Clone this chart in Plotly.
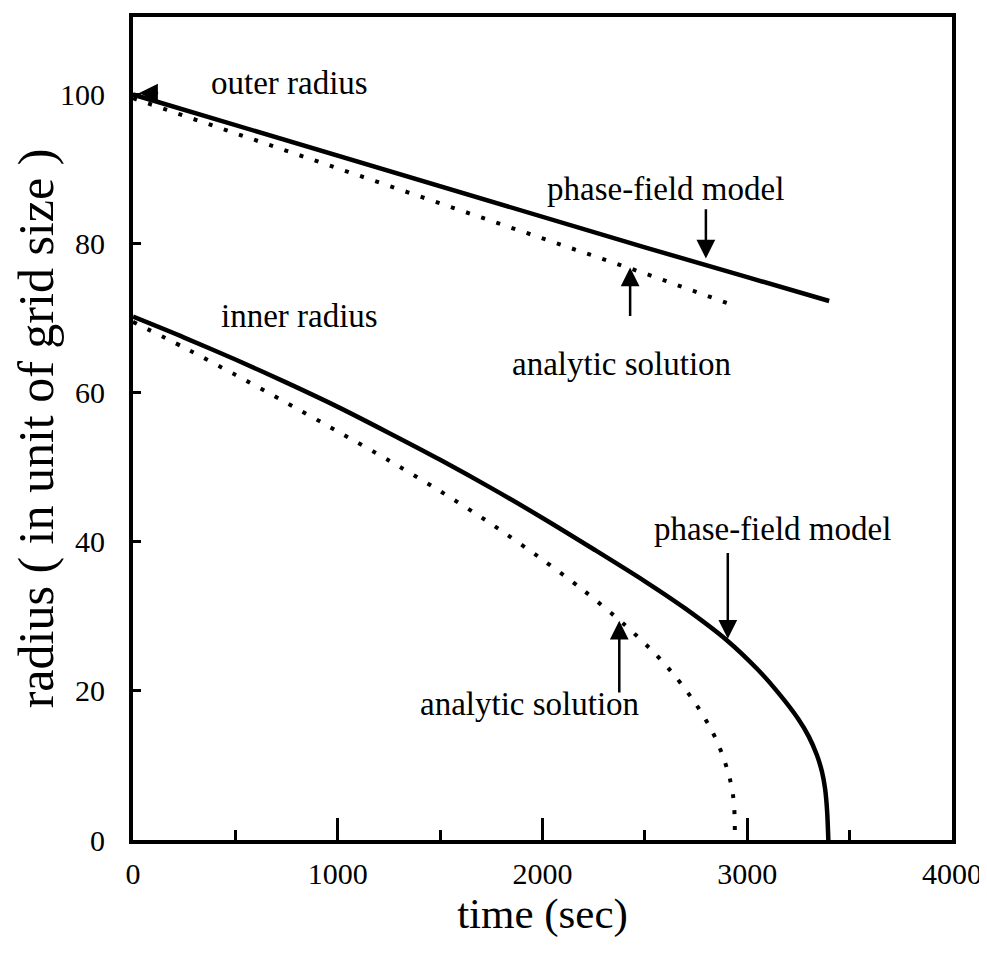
import plotly.graph_objects as go

# ---- data ----
outer_pf_t = [0, 500, 1000, 1500, 2000, 2500, 3000, 3400]
outer_pf_r = [100.0, 95.9, 91.8, 87.6, 83.5, 79.5, 75.5, 72.3]

outer_an_t = [0, 500, 1000, 1500, 2000, 2500, 2945]
outer_an_r = [99.5, 94.8, 90.1, 85.3, 80.7, 76.0, 71.6]

inner_pf_t = [0, 250, 500, 750, 1000, 1250, 1500, 1750, 2000, 2250, 2500, 2700, 2900,
              3050, 3150, 3250, 3300, 3340, 3365, 3380, 3390, 3396]
inner_pf_r = [70.2, 67.4, 64.45, 61.35, 58.1, 54.6, 51.0, 47.2, 43.2, 39.0, 34.7, 31.0, 26.8,
              22.9, 19.8, 16.2, 13.9, 11.4, 9.15, 6.9, 3.9, 0.0]

inner_an_t = [0, 250, 500, 750, 1000, 1250, 1500, 1750, 2000, 2200, 2400, 2550,
              2650, 2750, 2830, 2880, 2915, 2930, 2937, 2940]
inner_an_r = [69.5, 66.05, 62.4, 58.65, 54.8, 50.9, 46.8, 42.4, 37.6, 33.5, 28.9, 25.0,
              21.9, 18.2, 14.5, 11.35, 8.2, 6.1, 4.0, 0.0]

x_ticks = [0, 1000, 2000, 3000, 4000]
y_ticks = [0, 20, 40, 60, 80, 100]

FONT = "Liberation Serif"

fig = go.Figure()
solid = dict(color="black", width=4.5)
dotted = dict(color="black", width=4, dash="4px,12px")

fig.add_trace(go.Scatter(x=outer_pf_t, y=outer_pf_r, mode="lines", line=solid))
fig.add_trace(go.Scatter(x=outer_an_t, y=outer_an_r, mode="lines", line=dotted))
fig.add_trace(go.Scatter(x=inner_pf_t, y=inner_pf_r, mode="lines",
                         line=dict(solid, shape="spline", smoothing=0.8)))
fig.add_trace(go.Scatter(x=inner_an_t, y=inner_an_r, mode="lines",
                         line=dict(dotted, shape="spline", smoothing=0.8)))

texts = [
    ("outer radius", 764, 101.5),
    ("inner radius", 813, 70.3),
    ("phase-field model", 2603, 87.3),
    ("analytic solution", 2384, 63.9),
    ("phase-field model", 3124, 41.7),
    ("analytic solution", 1937, 18.3),
]
for txt, x, y in texts:
    fig.add_annotation(x=x, y=y, text=txt, showarrow=False,
                       font=dict(family=FONT, size=33, color="black"))

# arrows: (head_x, head_y, tail_x, tail_y)
arrows = [
    (2798, 78.0, 2798, 84.8),
    (2428, 76.8, 2428, 70.1),
    (2905, 27.0, 2905, 38.7),
    (2375, 29.4, 2375, 19.6),
    (30, 100.2, 130, 100.2),
]
for hx, hy, tx, ty in arrows:
    fig.add_annotation(x=hx, y=hy, ax=tx, ay=ty, xref="x", yref="y", axref="x", ayref="y",
                       text="", showarrow=True, arrowhead=2, arrowsize=1.5,
                       arrowwidth=2.5, arrowcolor="black")

fig.update_xaxes(
    range=[0, 4000], tickvals=x_ticks, ticks="inside", ticklen=22, tickwidth=3,
    tickcolor="black", showline=True, linewidth=4, linecolor="black", mirror=True,
    showgrid=False, zeroline=False, ticklabeloverflow="allow",
    minor=dict(dtick=500, ticks="inside", ticklen=10, tickwidth=3, tickcolor="black", showgrid=False),
    tickfont=dict(family=FONT, size=30, color="black"), ticklabelstandoff=4,
    title=dict(text="time (sec)", font=dict(family=FONT, size=43, color="black"), standoff=0),
)
fig.update_yaxes(
    range=[0, 110.4], tickvals=y_ticks, ticks="inside", ticklen=8, tickwidth=3,
    tickcolor="black", showline=True, linewidth=4, linecolor="black", mirror=True,
    showgrid=False, zeroline=False, ticklabeloverflow="allow",
    tickfont=dict(family=FONT, size=30, color="black"), ticklabelstandoff=18,
    title=dict(text="radius ( in unit of grid size )", font=dict(family=FONT, size=50, color="black"), standoff=0),
)

fig.update_layout(
    width=979, height=953,
    margin=dict(l=125, r=32, t=5, b=121),
    paper_bgcolor="white", plot_bgcolor="white",
    showlegend=False,
)

fig.write_html("out.html")
